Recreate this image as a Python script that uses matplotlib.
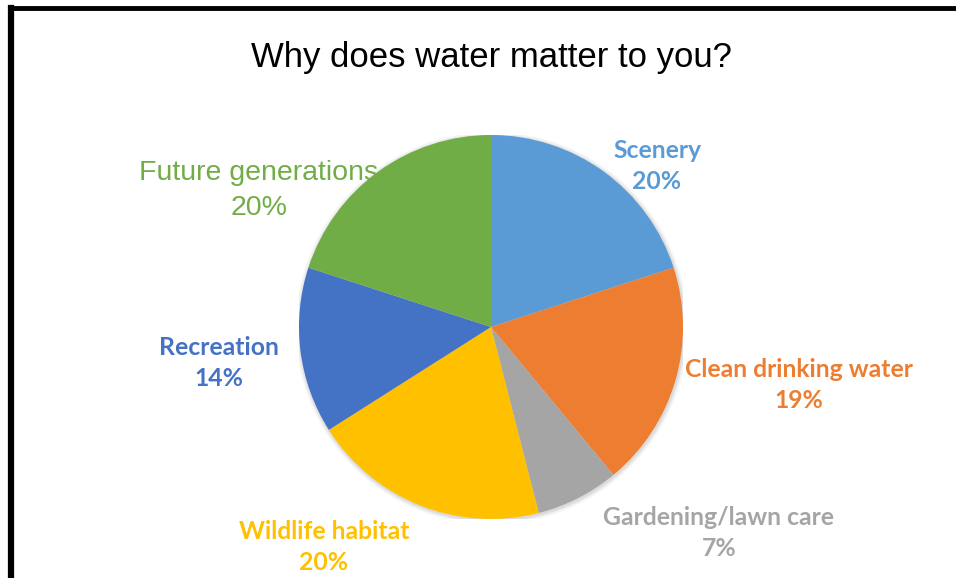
import matplotlib
matplotlib.use("Agg")
import matplotlib.pyplot as plt
from matplotlib.lines import Line2D

categories = ["Scenery", "Clean drinking water", "Gardening/lawn care",
              "Wildlife habitat", "Recreation", "Future generations"]
values = [20, 19, 7, 20, 14, 20]
colors = ["#5B9BD5", "#ED7D31", "#A5A5A5", "#FFC000", "#4472C4", "#70AD47"]
title = "Why does water matter to you?"

W, H = 956, 578
fig = plt.figure(figsize=(W / 100, H / 100), dpi=100)
fig.patch.set_facecolor("white")

cx, cy, r = 491, 327, 192
ax = fig.add_axes([(cx - r) / W, (H - cy - r) / H, 2 * r / W, 2 * r / H])

# soft shadow
for i, a in enumerate([0.05, 0.04, 0.03, 0.02]):
    ax.add_patch(plt.Circle((0.004, -0.006), 1 + 0.006 * (i + 1), color="black",
                            alpha=a, lw=0, zorder=0))

ax.pie(values, colors=colors, startangle=90, counterclock=False, radius=1,
       wedgeprops=dict(linewidth=0))
ax.set_xlim(-1, 1)
ax.set_ylim(-1, 1)
ax.set_aspect("equal")
ax.axis("off")

# label positions in pixel space (center of the two-line block)
label_px = [(657, 166), (799, 385), (719, 533), (324, 547), (219, 363), (259, 190)]
for cat, v, col, (px, py) in zip(categories, values, colors, label_px):
    x = (px - cx) / r
    y = (cy - py) / r
    if cat == "Future generations":
        ax.text(x, y, f"{cat}\n{v}%", color=col, ha="center", va="center",
                fontsize=20.5, family="Liberation Sans", linespacing=1.45,
                clip_on=False)
    else:
        ax.text(x, y, f"{cat}\n{v}%", color=col, ha="center", va="center",
                fontsize=17.8, family="Lato", fontweight="bold", linespacing=1.45,
                clip_on=False)

fig.text(cx / W, 1 - 57 / H, title, ha="center", va="center", fontsize=25,
         family="Liberation Sans", color="black")

# frame lines (top and left)
fig.add_artist(Line2D([11 / W, 1], [1 - 8 / H, 1 - 8 / H], color="black", lw=3.5,
                      transform=fig.transFigure))
fig.add_artist(Line2D([11 / W, 11 / W], [0, 1 - 8 / H], color="black", lw=4.5,
                      transform=fig.transFigure))

fig.savefig("out.png", dpi=100)
